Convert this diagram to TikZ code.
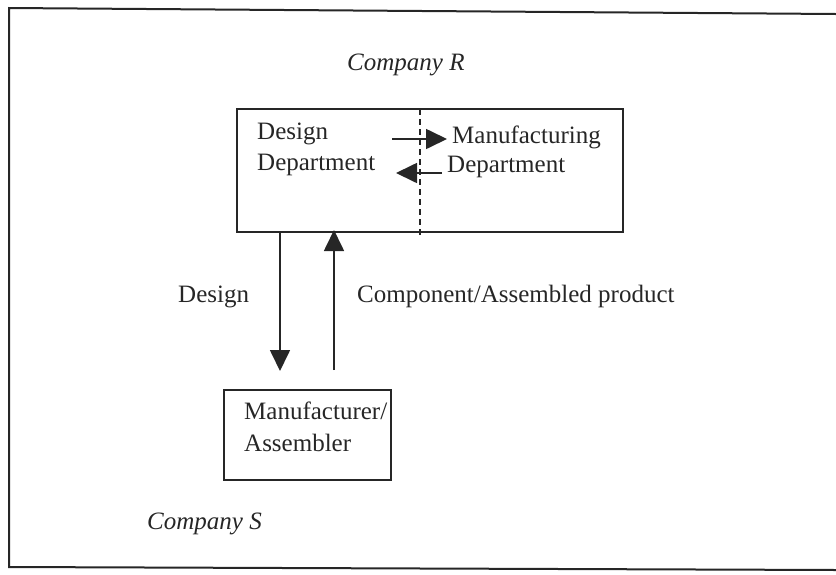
\documentclass[tikz,border=0pt]{standalone}
\usepackage{fontspec}
\setmainfont{Liberation Serif}
\usetikzlibrary{arrows.meta}
\begin{document}
\begin{tikzpicture}[x=1pt,y=-1pt,
  txt/.style={anchor=base west,inner sep=0pt,font=\fontsize{25}{30}\selectfont,text=black!85},
  itxt/.style={txt,font=\fontsize{25}{30}\selectfont\itshape},
  frame/.style={draw=black!85,line width=2pt},
  box/.style={draw=black!85,line width=1.7pt},
  conn/.style={draw=black!85,line width=1.7pt,-{Triangle[length=21pt,width=20pt]}}]
\useasboundingbox (0,0) rectangle (836,574);
% outer frame (open on the right)
\draw[frame] (836,14) -- (9,8) -- (9,567) -- (836,570);
% top box
\coordinate (tl) at (237,109);
\coordinate (br) at (623,232);
\draw[box] (tl) rectangle (br);
\coordinate (dtop) at (420,109);
\coordinate (dbot) at (420,237);
\draw[draw=black!85,line width=1.4pt,dash pattern=on 6pt off 4pt] (dtop) -- (dbot);
% texts
\node[itxt] (compR) at (347,70) {Company R};
\node[txt] (dd1) at (257,139) {Design};
\node[txt] (dd2) at (257,170) {Department};
\node[txt] (md1) at (452,143) {Manufacturing};
\node[txt] (md2) at (447,172) {Department};
% inner arrows
\coordinate (ra1) at (392,139);
\coordinate (ra2) at (447,139);
\coordinate (la1) at (442,173);
\coordinate (la2) at (396,173);
\draw[conn] (ra1) -- (ra2);
\draw[conn] (la1) -- (la2);
% bottom box
\draw[box] (224,390) rectangle (391,480);
\node[txt] (ma1) at (244,419) {Manufacturer/};
\node[txt] (ma2) at (244,451) {Assembler};
\node[itxt] (compS) at (147,529) {Company S};
% vertical arrows
\coordinate (d1) at (280,232);
\coordinate (d2) at (280,371);
\coordinate (u1) at (334,370);
\coordinate (u2) at (334,230);
\draw[conn] (d1) -- (d2);
\draw[conn] (u1) -- (u2);
\node[txt] (lblD) at (178,302) {Design};
\node[txt] (lblC) at (357,302) {Component/Assembled product};
\end{tikzpicture}
\end{document}
